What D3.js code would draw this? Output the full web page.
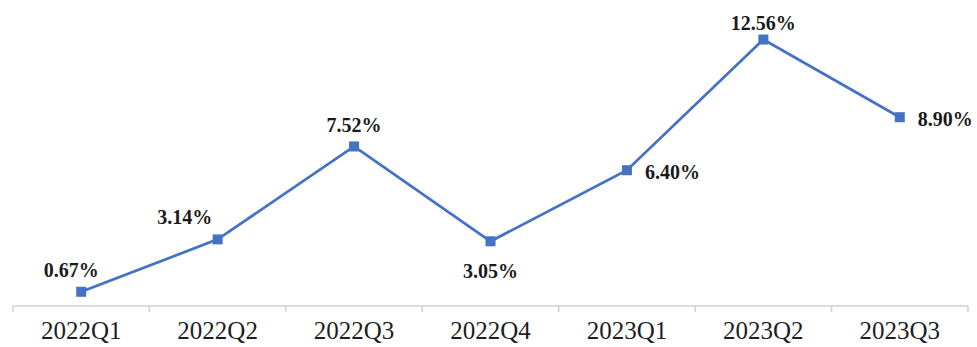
<!DOCTYPE html>
<html>
<head>
<meta charset="utf-8">
<script src="https://cdn.jsdelivr.net/npm/d3@7"></script>
<style>
  body { margin: 0; background: #fff; }
  svg { display: block; }
</style>
</head>
<body>
<script>
// quarterly values
let quarters = ["2022Q1", "2022Q2", "2022Q3", "2022Q4", "2023Q1", "2023Q2", "2023Q3"];
let rates = [0.67, 3.14, 7.52, 3.05, 6.40, 12.56, 8.90];
let rateLabels = ["0.67%", "3.14%", "7.52%", "3.05%", "6.40%", "12.56%", "8.90%"];

// where each label sits relative to its marker
let labelPlace = ["upleft", "upleft2", "up", "down", "right", "top", "right"];

let width = 977, height = 347;
let blue = "#4472c4";

let svg = d3.select("body")
            .append("svg")
            .attr("width", width)
            .attr("height", height);

let xScale = d3.scaleBand()
    .domain(quarters)
    .range([13, 968]);

let yScale = d3.scaleLinear()
    .domain([0, 14])
    .range([306, 9]);

let data = quarters.map((q, i) => ({q: q, v: rates[i], label: rateLabels[i], place: labelPlace[i]}));
let cx = d => xScale(d.q) + xScale.bandwidth() / 2;

// category axis: line, ticks between categories, labels under each band
let axis = svg.append("g");
axis.append("line")
    .attr("x1", xScale.range()[0]).attr("x2", xScale.range()[1])
    .attr("y1", yScale(0)).attr("y2", yScale(0))
    .attr("stroke", "#cfcfcf").attr("stroke-width", 1.5);

let bounds = quarters.map(q => xScale(q)).concat([xScale.range()[1]]);
axis.selectAll(".tick")
    .data(bounds)
    .enter()
    .append("line")
        .attr("x1", d => d).attr("x2", d => d)
        .attr("y1", yScale(0)).attr("y2", yScale(0) + 6)
        .attr("stroke", "#cfcfcf").attr("stroke-width", 1.5);

axis.selectAll(".cat")
    .data(quarters)
    .enter()
    .append("text")
        .attr("x", d => xScale(d) + xScale.bandwidth() / 2)
        .attr("y", 339)
        .attr("text-anchor", "middle")
        .attr("font-family", "'Liberation Serif', 'Times New Roman', serif")
        .attr("font-size", 25)
        .attr("fill", "#1e1e1e")
        .text(d => d);

// the line
let line = d3.line()
    .x(cx)
    .y(d => yScale(d.v));

svg.append("path")
    .datum(data)
    .attr("d", line)
    .attr("fill", "none")
    .attr("stroke", blue)
    .attr("stroke-width", 2.75);

// square markers
svg.selectAll(".mark")
    .data(data)
    .enter()
    .append("rect")
        .attr("x", d => cx(d) - 5)
        .attr("y", d => yScale(d.v) - 5)
        .attr("width", 10)
        .attr("height", 10)
        .attr("fill", blue);

// value labels
let offsets = {
    top:     {dx: 0,   dy: -10, anchor: "middle"},
    up:      {dx: 0,   dy: -14, anchor: "middle"},
    upleft:  {dx: -10, dy: -15, anchor: "middle"},
    upleft2: {dx: -33, dy: -15, anchor: "middle"},
    down:    {dx: 0,   dy: 37,  anchor: "middle"},
    right:   {dx: 18,  dy: 9,   anchor: "start"}
};

svg.selectAll(".val")
    .data(data)
    .enter()
    .append("text")
        .attr("x", d => cx(d) + offsets[d.place].dx)
        .attr("y", d => yScale(d.v) + offsets[d.place].dy)
        .attr("text-anchor", d => offsets[d.place].anchor)
        .attr("font-family", "'Liberation Serif', 'Times New Roman', serif")
        .attr("font-weight", "bold")
        .attr("font-size", 20)
        .attr("fill", "#1a1a1a")
        .text(d => d.label);
</script>
</body>
</html>
